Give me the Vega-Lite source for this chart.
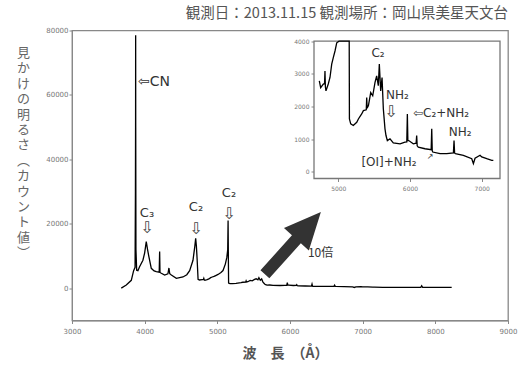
{
  "$schema": "https://vega.github.io/schema/vega-lite/v6.json",
  "width": 436,
  "height": 290,
  "autosize": {"type": "none"},
  "padding": {"left": 72, "top": 30.5, "right": 15, "bottom": 44.5},
  "background": "white",
  "title": {"text": "観測日：2013.11.15 観測場所：岡山県美星天文台", "anchor": "end", "frame": "group", "font": "Noto Sans CJK JP", "fontSize": 14.5, "fontWeight": "normal", "color": "#555", "offset": 5},
  "config": {
    "view": {"stroke": "#888", "strokeWidth": 1.3},
    "font": "DejaVu Sans, Noto Sans CJK JP",
    "axis": {"grid": false, "domainColor": "#888", "tickColor": "#888", "labelColor": "#777", "labelFont": "DejaVu Sans", "labelFontSize": 7, "tickSize": 3, "labelFlush": false}
  },
  "datasets": {
    "spectrum": [
      {"w": 3678, "c": 50}, {"w": 3747, "c": 1020}, {"w": 3816, "c": 2465}, {"w": 3848, "c": 5470}, {"w": 3868, "c": 6500},
      {"w": 3873, "c": 30000}, {"w": 3875, "c": 52000}, {"w": 3876, "c": 78500}, {"w": 3877, "c": 50000}, {"w": 3880, "c": 12000},
      {"w": 3890, "c": 5600}, {"w": 3907, "c": 5470}, {"w": 3930, "c": 6700}, {"w": 3976, "c": 8700}, {"w": 4000, "c": 11000},
      {"w": 4022, "c": 14460}, {"w": 4040, "c": 12000}, {"w": 4058, "c": 9800}, {"w": 4091, "c": 6200}, {"w": 4130, "c": 5400},
      {"w": 4160, "c": 5150}, {"w": 4200, "c": 5000}, {"w": 4206, "c": 11400}, {"w": 4211, "c": 4900}, {"w": 4229, "c": 4650},
      {"w": 4275, "c": 4120}, {"w": 4320, "c": 4500}, {"w": 4334, "c": 6300}, {"w": 4345, "c": 4500}, {"w": 4367, "c": 4100},
      {"w": 4436, "c": 3100}, {"w": 4527, "c": 3500}, {"w": 4580, "c": 4200}, {"w": 4619, "c": 5470}, {"w": 4665, "c": 8700},
      {"w": 4690, "c": 13000}, {"w": 4702, "c": 15500}, {"w": 4712, "c": 13000}, {"w": 4722, "c": 9000}, {"w": 4735, "c": 2790},
      {"w": 4754, "c": 2580}, {"w": 4791, "c": 2690}, {"w": 4808, "c": 2700}, {"w": 4814, "c": 3090}, {"w": 4820, "c": 2600},
      {"w": 4828, "c": 2480}, {"w": 4860, "c": 2690}, {"w": 4884, "c": 2890}, {"w": 4908, "c": 3300}, {"w": 4930, "c": 3500},
      {"w": 4954, "c": 3700}, {"w": 4978, "c": 3950}, {"w": 5010, "c": 4300}, {"w": 5050, "c": 4900}, {"w": 5078, "c": 5500},
      {"w": 5110, "c": 7500}, {"w": 5130, "c": 9500}, {"w": 5143, "c": 12000}, {"w": 5148, "c": 21000}, {"w": 5152, "c": 9000},
      {"w": 5155, "c": 1620}, {"w": 5173, "c": 1470}, {"w": 5209, "c": 1420}, {"w": 5257, "c": 1520}, {"w": 5280, "c": 1620},
      {"w": 5326, "c": 1775}, {"w": 5350, "c": 1875}, {"w": 5390, "c": 1900}, {"w": 5396, "c": 2280}, {"w": 5402, "c": 1950},
      {"w": 5420, "c": 2030}, {"w": 5452, "c": 2430}, {"w": 5480, "c": 2330}, {"w": 5512, "c": 2740}, {"w": 5535, "c": 2940},
      {"w": 5558, "c": 2640}, {"w": 5572, "c": 3300}, {"w": 5591, "c": 2480}, {"w": 5610, "c": 2890}, {"w": 5628, "c": 1930},
      {"w": 5651, "c": 1320}, {"w": 5665, "c": 1115}, {"w": 5684, "c": 960}, {"w": 5721, "c": 1015}, {"w": 5767, "c": 890},
      {"w": 5861, "c": 860}, {"w": 5930, "c": 910}, {"w": 5955, "c": 920}, {"w": 5963, "c": 1775}, {"w": 5970, "c": 960},
      {"w": 5982, "c": 960}, {"w": 6046, "c": 860}, {"w": 6085, "c": 880}, {"w": 6093, "c": 1115}, {"w": 6100, "c": 800},
      {"w": 6116, "c": 760}, {"w": 6209, "c": 710}, {"w": 6295, "c": 680}, {"w": 6303, "c": 1320}, {"w": 6310, "c": 650},
      {"w": 6317, "c": 610}, {"w": 6419, "c": 560}, {"w": 6512, "c": 560}, {"w": 6605, "c": 580}, {"w": 6614, "c": 960},
      {"w": 6622, "c": 580}, {"w": 6633, "c": 560}, {"w": 6744, "c": 510}, {"w": 6861, "c": 405}, {"w": 6884, "c": 255},
      {"w": 6907, "c": 420}, {"w": 6977, "c": 510}, {"w": 7000, "c": 460}, {"w": 7070, "c": 405}, {"w": 7140, "c": 355},
      {"w": 7162, "c": 355}, {"w": 7279, "c": 300}, {"w": 7500, "c": 280}, {"w": 7800, "c": 300}, {"w": 7812, "c": 800},
      {"w": 7825, "c": 300}, {"w": 8000, "c": 250}, {"w": 8225, "c": 250}
    ]
  },
  "layer": [
    {
      "layer": [
        {
          "data": {"name": "spectrum"},
          "mark": {"type": "line", "color": "black", "strokeWidth": 1.3},
          "encoding": {
            "x": {"field": "w", "type": "quantitative", "scale": {"domain": [3000, 9000], "nice": false, "zero": false},
              "axis": {"orient": "bottom", "values": [3000, 4000, 5000, 6000, 7000, 8000, 9000], "format": "d", "labelPadding": 4,
                "title": "波　長　（Å）", "titleFont": "Noto Sans CJK JP", "titleFontSize": 14, "titleFontWeight": "bold", "titleColor": "#555",
                "titleX": 213, "titleY": 33, "titleBaseline": "middle"}},
            "y": {"field": "c", "type": "quantitative", "scale": {"domain": [-10000, 80000], "nice": false, "zero": false},
              "axis": {"orient": "left", "values": [0, 10000, 20000, 30000, 40000, 50000, 60000, 70000, 80000], "format": "d", "labelPadding": 1,
                "title": ["見", "か", "け", "の", "明", "る", "さ", "︵", "カ", "ウ", "ン", "ト", "値", "︶"],
                "titleFont": "Noto Sans CJK JP", "titleFontSize": 13, "titleFontWeight": "normal", "titleColor": "#666",
                "titleAngle": 0, "titleAlign": "center", "titleBaseline": "top", "titleLineHeight": 15.4, "titleX": -49, "titleY": 16}}
          }
        },
        {
          "data": {"values": [
            {"w": 3908, "c": 64017, "t": "⇦CN"}
          ]},
          "mark": {"type": "text", "align": "left", "baseline": "middle", "fontSize": 14, "color": "#333"},
          "encoding": {"x": {"field": "w", "type": "quantitative"}, "y": {"field": "c", "type": "quantitative"}, "text": {"field": "t"}}
        },
        {
          "data": {"values": [
            {"w": 4032, "c": 23456, "t": "C₃"},
            {"w": 4706, "c": 25320, "t": "C₂"},
            {"w": 5160, "c": 29570, "t": "C₂"}
          ]},
          "mark": {"type": "text", "align": "center", "baseline": "middle", "fontSize": 13, "color": "#333"},
          "encoding": {"x": {"field": "w", "type": "quantitative"}, "y": {"field": "c", "type": "quantitative"}, "text": {"field": "t"}}
        },
        {
          "data": {"values": [
            {"w": 4032, "c": 18710, "t": "⇩"},
            {"w": 4706, "c": 18400, "t": "⇩"},
            {"w": 5160, "c": 23050, "t": "⇩"}
          ]},
          "mark": {"type": "text", "align": "center", "baseline": "middle", "fontSize": 16, "color": "#444"},
          "encoding": {"x": {"field": "w", "type": "quantitative"}, "y": {"field": "c", "type": "quantitative"}, "text": {"field": "t"}}
        },
        {
          "data": {"values": [{"w": 6247, "c": 10950, "t": "10倍"}]},
          "mark": {"type": "text", "align": "left", "baseline": "middle", "fontSize": 12, "color": "#333", "font": "Noto Sans CJK JP"},
          "encoding": {"x": {"field": "w", "type": "quantitative"}, "y": {"field": "c", "type": "quantitative"}, "text": {"field": "t"}}
        },
        {
          "data": {"values": [{"w": 6040, "c": 14000}]},
          "mark": {"type": "point", "shape": "arrow", "filled": true, "color": "#333", "opacity": 1, "size": 7000, "angle": 42},
          "encoding": {"x": {"field": "w", "type": "quantitative"}, "y": {"field": "c", "type": "quantitative"}}
        }
      ]
    },
    {
      "layer": [
        {
          "data": {"values": [{}]},
          "mark": {"type": "rect", "fill": "white", "stroke": "#777", "strokeWidth": 1.3},
          "encoding": {
            "x": {"datum": 4661, "type": "quantitative", "scale": {"zero": false}}, "x2": {"datum": 7255},
            "y": {"datum": -200, "type": "quantitative", "scale": {"zero": false}}, "y2": {"datum": 4000}
          }
        },
        {
          "data": {"name": "spectrum"},
          "transform": [{"filter": "datum.w >= 4735 && datum.w <= 7162"}],
          "mark": {"type": "line", "color": "black", "strokeWidth": 1.3},
          "encoding": {
            "x": {"field": "w", "type": "quantitative", "scale": {"domain": [4661, 7255], "range": [242, 428], "nice": false, "zero": false},
              "axis": {"orient": "bottom", "offset": -142, "values": [5000, 6000, 7000], "format": "d", "domain": false, "labelFontSize": 6, "labelColor": "#777", "labelPadding": 4, "title": null}},
            "y": {"field": "c", "type": "quantitative", "scale": {"domain": [-200, 4000], "range": [148, 10.7], "nice": false, "zero": false, "clamp": true},
              "axis": {"orient": "left", "offset": -242, "values": [0, 1000, 2000, 3000, 4000], "format": "d", "domain": false, "labelFontSize": 6, "labelColor": "#777", "labelPadding": 2, "title": null}}
          }
        },
        {
          "data": {"values": [
            {"w": 5554, "c": 3639, "t": "C₂"},
            {"w": 6698, "c": 1222, "t": "NH₂"},
            {"w": 5707, "c": 305, "t": "[OI]+NH₂"}
          ]},
          "mark": {"type": "text", "align": "center", "baseline": "middle", "fontSize": 12, "color": "#333"},
          "encoding": {"x": {"field": "w", "type": "quantitative"}, "y": {"field": "c", "type": "quantitative"}, "text": {"field": "t"}}
        },
        {
          "data": {"values": [
            {"w": 5665, "c": 2354, "t": "NH₂"},
            {"w": 6042, "c": 1803, "t": "⇦C₂+NH₂"}
          ]},
          "mark": {"type": "text", "align": "left", "baseline": "middle", "fontSize": 12, "color": "#333"},
          "encoding": {"x": {"field": "w", "type": "quantitative"}, "y": {"field": "c", "type": "quantitative"}, "text": {"field": "t"}}
        },
        {
          "data": {"values": [{"w": 5735, "c": 1834, "t": "⇩"}]},
          "mark": {"type": "text", "align": "center", "baseline": "middle", "fontSize": 16, "color": "#444"},
          "encoding": {"x": {"field": "w", "type": "quantitative"}, "y": {"field": "c", "type": "quantitative"}, "text": {"field": "t"}}
        },
        {
          "data": {"values": [{"w": 6279, "c": 460, "t": "↗"}]},
          "mark": {"type": "text", "align": "center", "baseline": "middle", "fontSize": 8, "color": "#333"},
          "encoding": {"x": {"field": "w", "type": "quantitative"}, "y": {"field": "c", "type": "quantitative"}, "text": {"field": "t"}}
        }
      ]
    }
  ],
  "resolve": {"scale": {"x": "independent", "y": "independent"}, "axis": {"x": "independent", "y": "independent"}}
}
